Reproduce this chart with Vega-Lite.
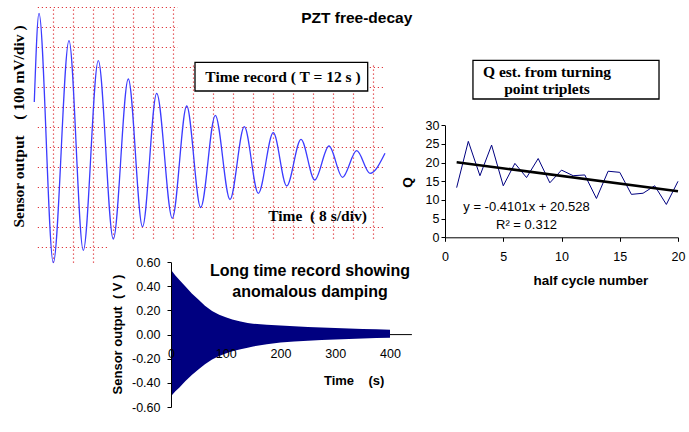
{
  "$schema": "https://vega.github.io/schema/vega-lite/v6.json",
  "description": "PZT free-decay: time record, long time record and Q estimates",
  "width": 689,
  "height": 432,
  "autosize": {"type": "none"},
  "padding": 0,
  "background": "white",
  "datasets": {
    "decay": [
      {"t": -0.95, "out": 2.27},
      {"t": -0.715, "out": 6.7},
      {"t": 0, "out": -5.77},
      {"t": 0.785, "out": 5.33},
      {"t": 1.5, "out": -5.15},
      {"t": 2.25, "out": 4.33},
      {"t": 3.0, "out": -4.585},
      {"t": 3.75, "out": 3.415},
      {"t": 4.46, "out": -3.97},
      {"t": 5.17, "out": 2.7},
      {"t": 5.95, "out": -3.55},
      {"t": 6.67, "out": 2.065},
      {"t": 7.37, "out": -3.01},
      {"t": 8.1, "out": 1.6},
      {"t": 8.835, "out": -2.61},
      {"t": 9.55, "out": 1.03},
      {"t": 10.25, "out": -2.3},
      {"t": 11.0, "out": 0.73},
      {"t": 11.67, "out": -1.935},
      {"t": 12.385, "out": 0.4},
      {"t": 13.07, "out": -1.635},
      {"t": 13.785, "out": 0.065},
      {"t": 14.46, "out": -1.5},
      {"t": 15.17, "out": -0.17},
      {"t": 15.835, "out": -1.3},
      {"t": 16.585, "out": -0.3}
    ],
    "longRecord": [
      {"time": 0, "upper": 0.54, "lower": -0.51},
      {"time": 2, "upper": 0.525, "lower": -0.5},
      {"time": 8, "upper": 0.49, "lower": -0.47},
      {"time": 15, "upper": 0.455, "lower": -0.44},
      {"time": 26, "upper": 0.4, "lower": -0.386},
      {"time": 38, "upper": 0.34, "lower": -0.335},
      {"time": 50, "upper": 0.29, "lower": -0.29},
      {"time": 62, "upper": 0.24, "lower": -0.245},
      {"time": 75, "upper": 0.195, "lower": -0.207},
      {"time": 88, "upper": 0.165, "lower": -0.178},
      {"time": 100, "upper": 0.143, "lower": -0.157},
      {"time": 112, "upper": 0.125, "lower": -0.138},
      {"time": 125, "upper": 0.11, "lower": -0.124},
      {"time": 140, "upper": 0.097, "lower": -0.108},
      {"time": 150, "upper": 0.09, "lower": -0.098},
      {"time": 175, "upper": 0.082, "lower": -0.08},
      {"time": 200, "upper": 0.075, "lower": -0.066},
      {"time": 225, "upper": 0.069, "lower": -0.057},
      {"time": 250, "upper": 0.064, "lower": -0.05},
      {"time": 275, "upper": 0.059, "lower": -0.045},
      {"time": 300, "upper": 0.055, "lower": -0.04},
      {"time": 325, "upper": 0.051, "lower": -0.036},
      {"time": 350, "upper": 0.047, "lower": -0.032},
      {"time": 375, "upper": 0.044, "lower": -0.029},
      {"time": 400, "upper": 0.041, "lower": -0.027}
    ],
    "qEst": [
      {"n": 1, "q": 13.3},
      {"n": 2, "q": 25.7},
      {"n": 3, "q": 16.5},
      {"n": 4, "q": 24.7},
      {"n": 5, "q": 13.8},
      {"n": 6, "q": 19.8},
      {"n": 7, "q": 16.0},
      {"n": 8, "q": 21.1},
      {"n": 9, "q": 14.6},
      {"n": 10, "q": 18.0},
      {"n": 11, "q": 16.5},
      {"n": 12, "q": 16.7},
      {"n": 13, "q": 10.4},
      {"n": 14, "q": 17.7},
      {"n": 15, "q": 17.4},
      {"n": 16, "q": 11.5},
      {"n": 17, "q": 11.8},
      {"n": 18, "q": 13.8},
      {"n": 19, "q": 8.8},
      {"n": 20, "q": 15.0}
    ],
    "qFit": [
      {"n": 1, "q": 20.12},
      {"n": 20, "q": 12.33}
    ]
  },
  "layer": [
    {
      "layer": [
        {
          "data": {"values": [{"cover": "behind title"}]},
          "mark": {"type": "rect", "fill": "white"},
          "encoding": {
            "x": {"datum": 6.235, "type": "quantitative"},
            "x2": {"datum": 17.3},
            "y": {"datum": 7.4, "type": "quantitative"},
            "y2": {"datum": 4.165}
          }
        },
        {
          "data": {"values": [{"cover": "behind long record"}]},
          "mark": {"type": "rect", "fill": "white"},
          "encoding": {
            "x": {"datum": 2.735, "type": "quantitative"},
            "x2": {"datum": 18.3},
            "y": {"datum": -4.67, "type": "quantitative"},
            "y2": {"datum": -5.85}
          }
        },
        {
          "data": {"name": "decay"},
          "mark": {"type": "line", "color": "#3c3cff", "strokeWidth": 1.3, "interpolate": "monotone"},
          "encoding": {
            "x": {
              "field": "t",
              "type": "quantitative",
              "scale": {"domain": [-0.8, 16.6], "range": [37.3, 385.3], "zero": false, "nice": false},
              "axis": {
                "orient": "top",
                "values": [0, 1, 2, 3, 4, 5, 6, 7, 8, 9, 10, 11, 12, 13, 14, 15, 16],
                "tickCount": 40,
                "grid": true,
                "gridColor": "#e0383c",
                "gridDash": [1.2, 2.8],
                "gridWidth": 1.2,
                "gridOpacity": 1,
                "labels": false,
                "ticks": false,
                "domain": false,
                "title": null
              }
            },
            "y": {
              "field": "out",
              "type": "quantitative",
              "scale": {"domain": [-5.75, 7], "range": [262.3, 7.3], "zero": false, "nice": false},
              "axis": {
                "orient": "left",
                "values": [-5, -4, -3, -2, -1, 0, 1, 2, 3, 4, 5, 6, 7],
                "tickCount": 40,
                "grid": true,
                "gridColor": "#e0383c",
                "gridDash": [1.2, 2.8],
                "gridWidth": 1.2,
                "gridOpacity": 1,
                "labels": false,
                "ticks": false,
                "domain": false,
                "title": "Sensor output\u00a0\u00a0\u00a0 ( 100 mV/div )",
                "titleX": 18,
                "titleY": 126,
                "titleAngle": 270,
                "titleAlign": "center",
                "titleBaseline": "middle",
                "titleFont": "Liberation Serif",
                "titleFontSize": 15.5,
                "titleFontWeight": "bold",
                "titleColor": "black"
              }
            }
          }
        },
        {
          "data": {"values": [{"box": "Time record"}]},
          "mark": {"type": "rect", "fill": "white", "stroke": "black", "strokeWidth": 1.3},
          "encoding": {
            "x": {"datum": 7.085, "type": "quantitative"},
            "x2": {"datum": 15.72},
            "y": {"datum": 4.25, "type": "quantitative"},
            "y2": {"datum": 2.815}
          }
        },
        {
          "data": {"values": [{"note": "Time record ( T = 12 s )"}]},
          "mark": {"type": "text", "font": "Liberation Serif", "fontWeight": "bold", "fontSize": 15.5, "align": "center", "baseline": "middle", "color": "black"},
          "encoding": {
            "text": {"field": "note"},
            "x": {"datum": 11.485, "type": "quantitative"},
            "y": {"datum": 3.53, "type": "quantitative"}
          }
        },
        {
          "data": {"values": [{"note": "Time\u00a0 ( 8 s/div)"}]},
          "mark": {"type": "text", "font": "Liberation Serif", "fontWeight": "bold", "fontSize": 15.5, "align": "center", "baseline": "middle", "color": "black"},
          "encoding": {
            "text": {"field": "note"},
            "x": {"datum": 13.21, "type": "quantitative"},
            "y": {"datum": -3.435, "type": "quantitative"}
          }
        },
        {
          "data": {"values": [{"note": "PZT free-decay"}]},
          "mark": {"type": "text", "font": "Liberation Sans", "fontWeight": "bold", "fontSize": 15.5, "align": "center", "baseline": "middle", "color": "black"},
          "encoding": {
            "text": {"field": "note"},
            "x": {"datum": 15.17, "type": "quantitative"},
            "y": {"datum": 6.49, "type": "quantitative"}
          }
        }
      ]
    },
    {
      "layer": [
        {
          "data": {"values": [{"line": "zero axis"}]},
          "mark": {"type": "rule", "color": "black", "strokeWidth": 1},
          "encoding": {
            "x": {"datum": 0, "type": "quantitative"},
            "x2": {"datum": 440},
            "y": {"datum": 0, "type": "quantitative"}
          }
        },
        {
          "data": {"name": "longRecord"},
          "mark": {"type": "area", "color": "#000080"},
          "encoding": {
            "x": {
              "field": "time",
              "type": "quantitative",
              "scale": {"domain": [0, 440], "range": [171, 411.9], "zero": false, "nice": false},
              "axis": {
                "orient": "bottom",
                "offset": -97.4,
                "values": [0, 100, 200, 300, 400],
                "tickCount": 20,
                "grid": false,
                "domain": false,
                "ticks": false,
                "tickSize": 0,
                "labelPadding": 13,
                "labelFont": "Liberation Sans",
                "labelFontSize": 12.5,
                "labelColor": "black",
                "labelFlush": false,
                "labelOverlap": false,
                "title": "Time\u00a0\u00a0\u00a0 (s)",
                "titleX": 353.7,
                "titleY": 45.4,
                "titleAlign": "center",
                "titleBaseline": "middle",
                "titleFont": "Liberation Sans",
                "titleFontSize": 13,
                "titleFontWeight": "bold",
                "titleColor": "black",
                "zindex": 1
              }
            },
            "y": {
              "field": "upper",
              "type": "quantitative",
              "scale": {"domain": [-0.6, 0.6], "range": [407, 262.2], "zero": false, "nice": false},
              "axis": {
                "orient": "left",
                "offset": -171,
                "values": [-0.6, -0.4, -0.2, 0, 0.2, 0.4, 0.6],
                "tickCount": 20,
                "grid": false,
                "tickSize": 4,
                "tickColor": "black",
                "labelPadding": 7,
                "labelFont": "Liberation Sans",
                "labelFontSize": 12.5,
                "labelColor": "black",
                "labelFlush": false,
                "labelOverlap": false,
                "labelExpr": "(datum.value < -0.001 ? '-' : '') + format(abs(datum.value), '.2f')",
                "domainColor": "black",
                "title": "Sensor output\u00a0 ( V )",
                "titleX": -54,
                "titleY": 334,
                "titleAngle": 270,
                "titleAlign": "center",
                "titleBaseline": "middle",
                "titleFont": "Liberation Sans",
                "titleFontSize": 13,
                "titleFontWeight": "bold",
                "titleColor": "black",
                "zindex": 1
              }
            },
            "y2": {"field": "lower"}
          }
        },
        {
          "data": {"values": [{"note": "Long time record showing\nanomalous damping"}]},
          "mark": {"type": "text", "font": "Liberation Sans", "fontWeight": "bold", "fontSize": 16, "lineHeight": 21, "lineBreak": "\n", "align": "center", "baseline": "middle", "color": "black"},
          "encoding": {
            "text": {"field": "note"},
            "x": {"datum": 253.9, "type": "quantitative"},
            "y": {"datum": 0.527, "type": "quantitative"}
          }
        }
      ]
    },
    {
      "layer": [
        {
          "data": {"name": "qEst"},
          "mark": {"type": "line", "color": "#000080", "strokeWidth": 1},
          "encoding": {
            "x": {
              "field": "n",
              "type": "quantitative",
              "scale": {"domain": [0, 20], "range": [445, 678], "zero": false, "nice": false},
              "axis": {
                "orient": "bottom",
                "offset": -194.7,
                "values": [0, 5, 10, 15, 20],
                "tickCount": 20,
                "grid": false,
                "tickSize": 4,
                "tickColor": "black",
                "labelPadding": 9,
                "labelFont": "Liberation Sans",
                "labelFontSize": 12.5,
                "labelColor": "black",
                "labelFlush": false,
                "labelOverlap": false,
                "domainColor": "black",
                "title": "half cycle number",
                "titleX": 590.3,
                "titleY": 42.7,
                "titleAlign": "center",
                "titleBaseline": "middle",
                "titleFont": "Liberation Sans",
                "titleFontSize": 13.5,
                "titleFontWeight": "bold",
                "titleColor": "black",
                "zindex": 1
              }
            },
            "y": {
              "field": "q",
              "type": "quantitative",
              "scale": {"domain": [0, 30], "range": [237.3, 125.3], "zero": false, "nice": false},
              "axis": {
                "orient": "left",
                "offset": -445,
                "values": [0, 5, 10, 15, 20, 25, 30],
                "tickCount": 20,
                "grid": false,
                "tickSize": 4,
                "tickColor": "black",
                "labelPadding": 2,
                "labelFont": "Liberation Sans",
                "labelFontSize": 12.5,
                "labelColor": "black",
                "labelFlush": false,
                "labelOverlap": false,
                "domainColor": "black",
                "title": "Q",
                "titleX": -38,
                "titleY": 182,
                "titleAngle": 270,
                "titleAlign": "center",
                "titleBaseline": "middle",
                "titleFont": "Liberation Sans",
                "titleFontSize": 13.5,
                "titleFontWeight": "bold",
                "titleColor": "black",
                "zindex": 1
              }
            }
          }
        },
        {
          "data": {"name": "qFit"},
          "mark": {"type": "line", "color": "black", "strokeWidth": 2.6},
          "encoding": {
            "x": {"field": "n", "type": "quantitative"},
            "y": {"field": "q", "type": "quantitative"}
          }
        },
        {
          "data": {"values": [{"box": "Q estimate"}]},
          "mark": {"type": "rect", "fill": "white", "stroke": "black", "strokeWidth": 1.3},
          "encoding": {
            "x": {"datum": 2.4, "type": "quantitative"},
            "x2": {"datum": 18.37},
            "y": {"datum": 47.4, "type": "quantitative"},
            "y2": {"datum": 37.05}
          }
        },
        {
          "data": {"values": [{"note": "Q est. from turning\npoint triplets"}]},
          "mark": {"type": "text", "font": "Liberation Serif", "fontWeight": "bold", "fontSize": 15.5, "lineHeight": 16.5, "lineBreak": "\n", "align": "center", "baseline": "alphabetic", "color": "black"},
          "encoding": {
            "text": {"field": "note"},
            "x": {"datum": 8.755, "type": "quantitative"},
            "y": {"datum": 42.81, "type": "quantitative"}
          }
        },
        {
          "data": {"values": [{"note": "y = -0.4101x + 20.528"}]},
          "mark": {"type": "text", "font": "Liberation Sans", "fontSize": 13, "align": "left", "baseline": "middle", "color": "black"},
          "encoding": {
            "text": {"field": "note"},
            "x": {"datum": 1.57, "type": "quantitative"},
            "y": {"datum": 8.2, "type": "quantitative"}
          }
        },
        {
          "data": {"values": [{"note": "R² = 0.312"}]},
          "mark": {"type": "text", "font": "Liberation Sans", "fontSize": 13, "align": "left", "baseline": "middle", "color": "black"},
          "encoding": {
            "text": {"field": "note"},
            "x": {"datum": 4.38, "type": "quantitative"},
            "y": {"datum": 3.29, "type": "quantitative"}
          }
        }
      ]
    }
  ],
  "resolve": {
    "scale": {"x": "independent", "y": "independent"},
    "axis": {"x": "independent", "y": "independent"}
  },
  "config": {
    "view": {"stroke": null},
    "font": "Liberation Sans"
  }
}
